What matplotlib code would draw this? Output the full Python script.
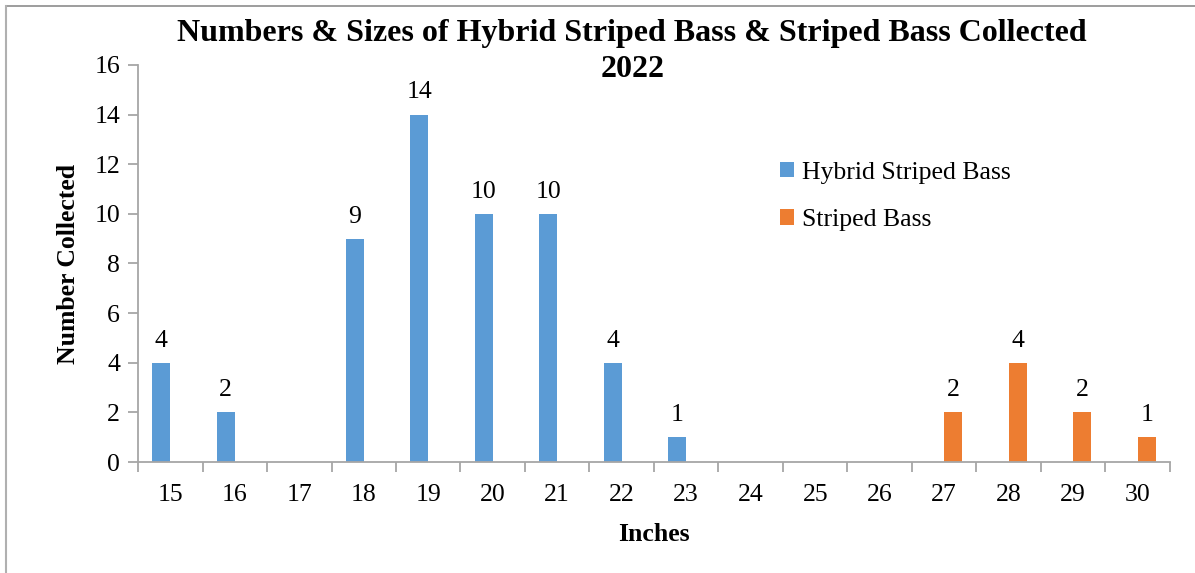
import numpy as np
import matplotlib.pyplot as plt
from matplotlib.lines import Line2D

inches = ['15', '16', '17', '18', '19', '20', '21', '22', '23', '24', '25', '26', '27', '28', '29', '30']
hybrid = [4, 2, 0, 9, 14, 10, 10, 4, 1, 0, 0, 0, 0, 0, 0, 0]
striped = [0, 0, 0, 0, 0, 0, 0, 0, 0, 0, 0, 0, 2, 4, 2, 1]

plt.rcParams['font.family'] = ['Liberation Serif', 'DejaVu Serif']

fig = plt.figure(figsize=(11.95, 5.73), dpi=100)
ax = fig.add_axes([0.1155, 0.1937, 0.8635, 0.6929])

x = np.arange(len(inches))
w = 0.28
b1 = ax.bar(x - w / 2, hybrid, w, color='#5B9BD5', label='Hybrid Striped Bass')
b2 = ax.bar(x + w / 2, striped, w, color='#ED7D31', label='Striped Bass')

# data labels only on non-zero bars
for bars, vals in ((b1, hybrid), (b2, striped)):
    for r, v in zip(bars, vals):
        if v > 0:
            ax.annotate(str(v), (r.get_x() + r.get_width() / 2, v), xytext=(0, 8),
                        textcoords='offset points', ha='center', va='bottom', fontsize=18.5)

ax.set_xlim(-0.5, len(inches) - 0.5)
ax.set_ylim(0, 16)
ax.set_yticks(range(0, 17, 2))
ax.set_xticks(x)
ax.set_xticklabels(inches)
ax.set_xticks(np.arange(-0.5, len(inches)), minor=True)
ax.tick_params(axis='x', which='major', length=0, pad=16, labelsize=18.5)
ax.tick_params(axis='x', which='minor', length=7, color='#A6A6A6', width=1.3)
ax.tick_params(axis='y', length=7, color='#A6A6A6', width=1.3, labelsize=18.5, pad=6)

for s in ('top', 'right'):
    ax.spines[s].set_visible(False)
for s in ('left', 'bottom'):
    ax.spines[s].set_color('#A6A6A6')
    ax.spines[s].set_linewidth(1.3)

ax.set_xlabel('Inches', fontsize=18.5, fontweight='bold', labelpad=12)
ax.set_ylabel('Number Collected', fontsize=18.5, fontweight='bold', labelpad=10)

# two-line title
fig.text(0.529, 1 - 33 / 573, 'Numbers & Sizes of Hybrid Striped Bass & Striped Bass Collected',
         ha='center', va='center', fontsize=23, fontweight='bold')
fig.text(0.529, 1 - 70 / 573, '2022', ha='center', va='center', fontsize=23, fontweight='bold')

ax.legend(loc='upper left', bbox_to_anchor=(0.6, 0.815), frameon=False, fontsize=18.5,
          handlelength=0.55, handleheight=0.55, handletextpad=0.3, labelspacing=1.0)

# frame lines on top and left edge
fig.add_artist(Line2D([0.005, 1], [0.989, 0.989], color='#8C8C8C', lw=1.2))
fig.add_artist(Line2D([0.005, 0.005], [0, 0.989], color='#B0B0B0', lw=1.5))

fig.savefig('out.png', dpi=100)
